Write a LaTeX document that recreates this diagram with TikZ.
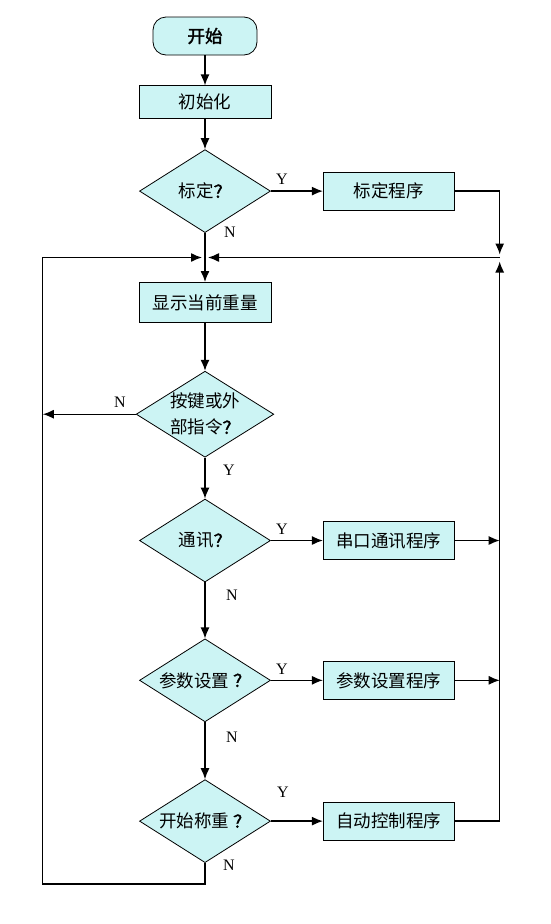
\documentclass[tikz,border=0pt]{standalone}
\usepackage{fontspec}
\setmainfont{Liberation Serif}
\newfontfamily\cjk[AutoFakeBold=2]{Noto Sans CJK SC}
\usepackage{tikz}
\usetikzlibrary{shapes.geometric, positioning, arrows.meta, calc}
\definecolor{boxfill}{RGB}{204,244,244}
\tikzset{
	block/.style={
		draw,
		rectangle,
		fill=boxfill,
		inner sep=0pt,
		minimum width=132pt,
		minimum height=38pt,
		font=\cjk\fontsize{17.5}{20}\selectfont
	},
	decision/.style={
		draw,
		diamond,
		aspect=1.6,
		fill=boxfill,
		inner sep=0pt,
		minimum width=131pt,
		minimum height=83pt,
		align=center,
		font=\cjk\fontsize{17.5}{26}\selectfont
	},
	terminal/.style={
		draw,
		rectangle,
		rounded corners=13pt,
		fill=boxfill,
		minimum width=104pt,
		minimum height=38pt,
		font=\cjk\bfseries\fontsize{17.5}{20}\selectfont
	},
	yn/.style={
		inner sep=0pt,
		font=\fontsize{16}{18}\selectfont
	}
}

\begin{document}
\begin{tikzpicture}[x=1pt, y=1pt, line width=0.8pt]
		\useasboundingbox (0,0) rectangle (550,-924);
		\begin{scope}[node distance=30pt] % main column, right column
		\node[terminal] (start) at (205,-36) {开始};
		\node[block, below=30pt of start, minimum height=33pt] (init) {初始化};
		\node[decision, below=30pt of init] (calq) {标定\textbf{？}};
		\node[block, right=52pt of calq, minimum width=131pt] (calp) {标定程序};
		\node[block, below=49pt of calq, minimum height=40pt] (show) {显示当前重量};
		\node[decision, below=48pt of show] (keyq) {按键或外\\部指令\textbf{？}};
		\node[decision, below=41pt of keyq] (comq) {通讯\textbf{？}};
		\node[block, right=52pt of comq, minimum width=131pt] (comp) {串口通讯程序};
		\node[decision, below=56pt of comq] (parq) {参数设置 \textbf{？}};
		\node[block, right=52pt of parq, minimum width=131pt] (parp) {参数设置程序};
		\node[decision, below=57pt of parq] (weiq) {开始称重 \textbf{？}};
		\node[block, right=52pt of weiq, minimum width=131pt] (weip) {自动控制程序};
		
		% loop corners
		\coordinate (join) at ($(calq.south)!0.5!(show.north)$);
		\coordinate (rjoin) at ([xshift=45pt]calp.east |- join);
		\coordinate (ljoin) at ([xshift=-93pt]keyq.west |- join);
		\coordinate (bot) at ([yshift=-21pt]weiq.south);
		
		% connections
		\begin{scope}[line width=1.3pt, ->, >={Latex[length=11pt,width=9pt]}]
		\draw (start) -- (init);
		\draw (init) -- (calq);
		\draw (calq) -- (calp);
		\draw[-] (calq) -- (join);
		\draw (join) -- (show);
		\draw (calp.east) -| ([yshift=3pt]rjoin);
		\draw (weip.east) -| ([yshift=-4pt]rjoin);
		\draw (rjoin) -- ([xshift=3pt]join);
		\draw (show) -- (keyq);
		\draw (keyq.west) -- (keyq.west -| ljoin);
		\draw (keyq) -- (comq);
		\draw (comq) -- (comp);
		\draw (comp.east) -- (comp.east -| rjoin);
		\draw (comq) -- (parq);
		\draw (parq) -- (parp);
		\draw (parp.east) -- (parp.east -| rjoin);
		\draw (parq) -- (weiq);
		\draw (weiq) -- (weip);
		\draw (weiq.south) -- (bot) -| (ljoin) -- ([xshift=-3pt]join);
		\end{scope}
		
		% branch labels
		\node[yn] (calY) at ([xshift=11pt, yshift=12pt]calq.east) {Y};
		\node[yn] (calN) at ([xshift=25pt, yshift=1pt]calq.south) {N};
		\node[yn] (keyN) at ([xshift=-16pt, yshift=12pt]keyq.west) {N};
		\node[yn] (keyY) at ([xshift=24pt, yshift=-13pt]keyq.south) {Y};
		\node[yn] (comY) at ([xshift=11pt, yshift=11pt]comq.east) {Y};
		\node[yn] (comN) at ([xshift=27pt, yshift=-13pt]comq.south) {N};
		\node[yn] (parY) at ([xshift=11pt, yshift=11pt]parq.east) {Y};
		\node[yn] (parN) at ([xshift=27pt, yshift=-15pt]parq.south) {N};
		\node[yn] (weiY) at ([xshift=12pt, yshift=29pt]weiq.east) {Y};
		\node[yn] (weiN) at ([xshift=24pt, yshift=-2pt]weiq.south) {N};
		\end{scope}
\end{tikzpicture}
\end{document}
